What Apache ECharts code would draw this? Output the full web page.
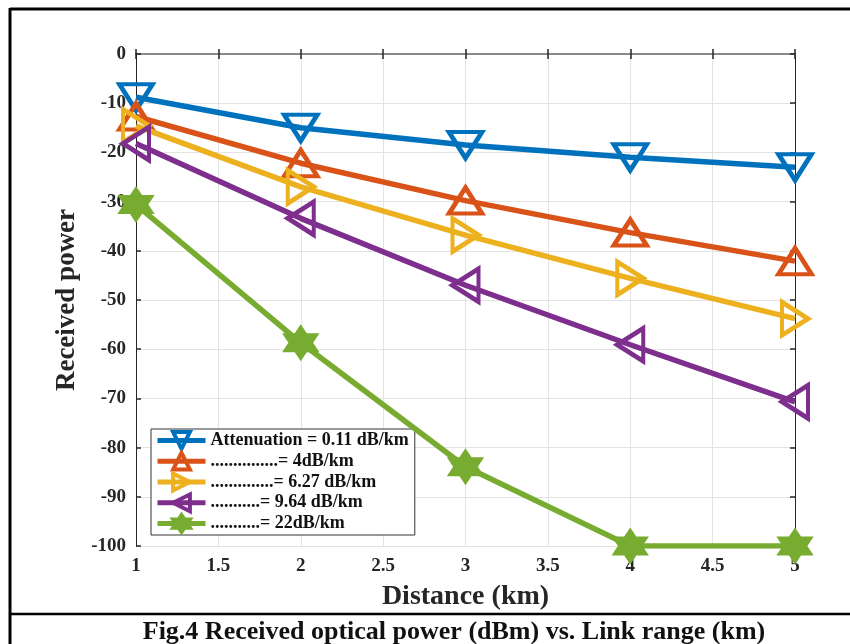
<!DOCTYPE html>
<html>
<head>
<meta charset="utf-8">
<script src="https://cdn.jsdelivr.net/npm/echarts@6/dist/echarts.min.js"></script>
<style>html,body{margin:0;padding:0;background:#fff}#c{width:850px;height:644px}</style>
</head>
<body>
<div id="c"></div>
<script>
var distance = [1, 2, 3, 4, 5];
var seriesNames = ['Attenuation = 0.11 dB/km', '...............= 4dB/km', '..............= 6.27 dB/km', '...........= 9.64 dB/km', '...........= 22dB/km'];
var att011 = [-8.8, -15, -18.5, -21, -23];
var att4 = [-12.7, -22.2, -29.8, -36.3, -42.1];
var att627 = [-14.6, -27, -36.8, -45.6, -53.8];
var att964 = [-18.2, -33.4, -47, -59.1, -70.7];
var att22 = [-30.6, -58.7, -83.9, -100, -100];
var xTicks = ['1', '1.5', '2', '2.5', '3', '3.5', '4', '4.5', '5'];

var colors = ['#0072BD', '#D95319', '#EDB120', '#7E2F8E', '#77AC30'];
var FONT = '"Liberation Serif", "Times New Roman", serif';

function hexagramPath() {
  var pts = [];
  for (var i = 0; i < 12; i++) {
    var a = (-90 + 30 * i) * Math.PI / 180;
    var r = (i % 2 === 0) ? 1 : 0.577;
    pts.push((i === 0 ? 'M' : 'L') + (r * Math.cos(a)).toFixed(3) + ' ' + (r * Math.sin(a)).toFixed(3));
  }
  return 'path://' + pts.join(' ') + ' Z';
}

function pairs(vals) { return distance.map(function (d, i) { return [d, vals[i]]; }); }

var symbols = [
  {symbol: 'triangle', rotate: 180, fill: 'rgba(0,0,0,0)', size: [33, 26]},
  {symbol: 'triangle', rotate: 0, fill: 'rgba(0,0,0,0)', size: [33, 26]},
  {symbol: 'triangle', rotate: -90, fill: 'rgba(0,0,0,0)', size: [33, 26]},
  {symbol: 'triangle', rotate: 90, fill: 'rgba(0,0,0,0)', size: [33, 26]},
  {symbol: hexagramPath(), rotate: 0, fill: colors[4], size: 29}
];
var allVals = [att011, att4, att627, att964, att22];

var series = allVals.map(function (v, i) {
  return {
    name: seriesNames[i],
    type: 'line',
    data: pairs(v),
    symbol: symbols[i].symbol,
    symbolRotate: symbols[i].rotate,
    symbolSize: symbols[i].size,
    showAllSymbol: true,
    lineStyle: {color: colors[i], width: 5.5},
    itemStyle: {color: symbols[i].fill, borderColor: colors[i], borderWidth: 4.5},
    emphasis: {disabled: true},
    z: 3 + i,
    animation: false
  };
});

var labelStyle = {fontFamily: FONT, fontWeight: 'bold', fontSize: 19, color: '#262626'};
var chart = echarts.init(document.getElementById('c'), null, {renderer: 'canvas'});
chart.setOption({
  backgroundColor: '#fff',
  animation: false,
  color: colors,
  grid: {left: 136, right: 55, top: 54, bottom: 98},
  legend: {
    orient: 'vertical',
    left: 151, top: 429,
    backgroundColor: '#fff',
    borderColor: '#333', borderWidth: 1,
    padding: [1, 6, 1, 4],
    itemWidth: 48, itemHeight: 21, itemGap: 0,
    lineStyle: {width: 5},
    itemStyle: {borderWidth: 4},
    textStyle: {fontFamily: FONT, fontWeight: 'bold', fontSize: 18, color: '#111'},
    data: seriesNames
  },
  xAxis: [{
    type: 'value', min: 1, max: 5, interval: 0.5,
    axisLine: {show: true, lineStyle: {color: '#262626', width: 1}},
    axisTick: {show: true, inside: true, length: 5, lineStyle: {color: '#262626', width: 1.5}},
    axisLabel: Object.assign({margin: 11, formatter: function (v) { return xTicks[Math.round((v - 1) * 2)]; }}, labelStyle),
    splitLine: {show: true, lineStyle: {color: '#e3e3e3', width: 1}},
    name: 'Distance (km)', nameLocation: 'middle', nameGap: 37,
    nameTextStyle: {fontFamily: FONT, fontWeight: 'bold', fontSize: 28, color: '#262626'}
  }, {
    type: 'value', min: 1, max: 5, interval: 0.5, position: 'top',
    axisLine: {show: true, lineStyle: {color: '#8a8a8a', width: 2}},
    axisTick: {show: true, inside: true, length: 5, lineStyle: {color: '#262626', width: 1.5}},
    axisLabel: {show: false}, splitLine: {show: false}
  }],
  yAxis: [{
    type: 'value', min: -100, max: 0, interval: 10,
    axisLine: {show: true, lineStyle: {color: '#262626', width: 1}},
    axisTick: {show: true, inside: true, length: 5, lineStyle: {color: '#262626', width: 1.5}},
    axisLabel: Object.assign({margin: 10}, labelStyle),
    splitLine: {show: true, lineStyle: {color: '#e3e3e3', width: 1}},
    name: 'Received power', nameLocation: 'middle', nameGap: 52,
    nameTextStyle: {fontFamily: FONT, fontWeight: 'bold', fontSize: 27, color: '#262626'}
  }, {
    type: 'value', min: -100, max: 0, interval: 10, position: 'right',
    axisLine: {show: true, lineStyle: {color: '#262626', width: 1}},
    axisTick: {show: true, inside: true, length: 5, lineStyle: {color: '#262626', width: 1.5}},
    axisLabel: {show: false}, splitLine: {show: false}
  }],
  graphic: [
    {type: 'line', shape: {x1: 10, y1: 9, x2: 850, y2: 9}, style: {stroke: '#000', lineWidth: 3}, silent: true},
    {type: 'line', shape: {x1: 10, y1: 8, x2: 10, y2: 644}, style: {stroke: '#000', lineWidth: 3}, silent: true},
    {type: 'line', shape: {x1: 10, y1: 614, x2: 850, y2: 614}, style: {stroke: '#000', lineWidth: 2.5}, silent: true},
    {type: 'text', x: 454, y: 632, silent: true, z: 10,
      style: {text: 'Fig.4 Received optical power (dBm) vs. Link range (km)', font: 'bold 26px ' + FONT, fill: '#111', textAlign: 'center', textVerticalAlign: 'middle'}}
  ],
  series: series
});
</script>
</body>
</html>
